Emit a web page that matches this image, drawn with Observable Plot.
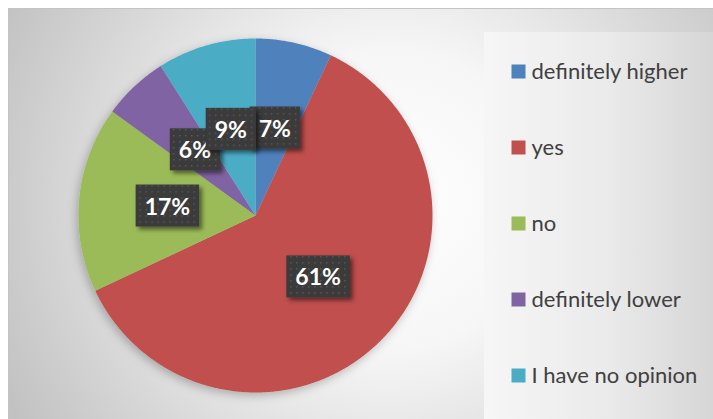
<!DOCTYPE html>
<html><head><meta charset="utf-8">
<script src="https://cdn.jsdelivr.net/npm/d3@7"></script>
<script src="https://cdn.jsdelivr.net/npm/@observablehq/plot@0.6"></script>
<style>
body{margin:0;background:#fff;}
#wrap{position:relative;width:713px;height:419px;overflow:hidden;}
#chart{position:absolute;left:0;top:0;}
#legend{position:absolute;left:484px;top:32px;width:229px;height:387px;background:linear-gradient(90deg,#f6f6f6 0%,#eaeaea 55%,#d6d6d6 100%);}
</style></head><body>
<div id="wrap"><div id="chart"></div><div id="legend"></div></div>
<script>
const categories = ["definitely higher", "yes", "no", "definitely lower", "I have no opinion"];
const values = [7, 61, 17, 6, 9];
const colors = ["#4F81BD", "#C0504D", "#9BBB59", "#8064A2", "#4BACC6"];

const pie = d3.pie().sort(null).value(d => d)(values);
const toXY = (a, r) => [r * Math.sin(a), r * Math.cos(a)];
const slices = pie.map((p, i) => {
  const n = Math.max(2, Math.ceil((p.endAngle - p.startAngle) / (Math.PI / 360)));
  const ring = [[0, 0]];
  for (let k = 0; k <= n; k++) ring.push(toXY(p.startAngle + (p.endAngle - p.startAngle) * k / n, 1));
  ring.push([0, 0]);
  return {type: "Feature", properties: {category: categories[i]}, geometry: {type: "Polygon", coordinates: [ring]}};
});
const labels = pie.map((p, i) => {
  const [x, y] = toXY((p.startAngle + p.endAngle) / 2, 0.5);
  return {x, y, text: `${values[i]}%`};
});

const chart = Plot.plot({
  width: 713, height: 419,
  marginLeft: 78, marginRight: 281, marginTop: 38, marginBottom: 27,
  projection: {type: "reflect-y", domain: {type: "MultiPoint", coordinates: [[-1, -1], [1, 1]]}},
  color: {domain: categories, range: colors},
  style: {background: "transparent", fontFamily: "Lato, sans-serif", overflow: "visible"},
  marks: [
    Plot.geo(slices, {fill: d => d.properties.category, stroke: "none"}),
    Plot.text(labels, {x: "x", y: "y", text: "text", fill: "white", fontSize: 23, fontWeight: "bold"})
  ]
});
document.getElementById("chart").appendChild(chart);

const NS = "http://www.w3.org/2000/svg";
const svg = d3.select(chart);
const defs = svg.insert("defs", ":first-child");
const rg = defs.append("radialGradient").attr("id", "bg").attr("gradientUnits", "userSpaceOnUse")
  .attr("cx", 390).attr("cy", 200).attr("r", 430);
rg.append("stop").attr("offset", 0).attr("stop-color", "#ffffff");
rg.append("stop").attr("offset", 0.35).attr("stop-color", "#f6f6f6");
rg.append("stop").attr("offset", 1).attr("stop-color", "#c2c2c2");
const pat = defs.append("pattern").attr("id", "dots").attr("patternUnits", "userSpaceOnUse").attr("width", 6).attr("height", 6);
pat.append("rect").attr("width", 6).attr("height", 6).attr("fill", "#3b3b3b");
pat.append("rect").attr("x", 2).attr("y", 2).attr("width", 1.5).attr("height", 1.5).attr("fill", "#575757");
const sh = defs.append("filter").attr("id", "shadow").attr("x", "-30%").attr("y", "-30%").attr("width", "160%").attr("height", "160%");
sh.append("feDropShadow").attr("dx", 3).attr("dy", 3).attr("stdDeviation", 2).attr("flood-color", "#000").attr("flood-opacity", 0.5);
const psh = defs.append("filter").attr("id", "pieshadow").attr("x", "-20%").attr("y", "-20%").attr("width", "140%").attr("height", "140%");
psh.append("feDropShadow").attr("dx", -2).attr("dy", 3).attr("stdDeviation", 5).attr("flood-color", "#000").attr("flood-opacity", 0.25);

const bg = document.createElementNS(NS, "rect");
bg.setAttribute("x", 8.5); bg.setAttribute("y", 8.5); bg.setAttribute("width", 706); bg.setAttribute("height", 412);
bg.setAttribute("fill", "url(#bg)"); bg.setAttribute("stroke", "#c4c4c4");
chart.insertBefore(bg, defs.node().nextSibling);

svg.select('g[aria-label="geo"]').attr("filter", "url(#pieshadow)");

svg.selectAll('g[aria-label="text"] text').each(function() {
  const b = this.getBBox();
  const cy = b.y + b.height / 2;
  const r = document.createElementNS(NS, "rect");
  r.setAttribute("x", b.x - 9); r.setAttribute("y", cy - 21);
  r.setAttribute("width", b.width + 18); r.setAttribute("height", 42);
  r.setAttribute("fill", "url(#dots)"); r.setAttribute("filter", "url(#shadow)");
  const t = this.getAttribute("transform");
  if (t) r.setAttribute("transform", t);
  this.parentNode.insertBefore(r, this);
});

const legend = Plot.plot({
  width: 229, height: 387,
  marginTop: 37, marginBottom: 43, marginLeft: 0, marginRight: 0,
  y: {type: "point", domain: categories, padding: 0, axis: null},
  color: {domain: categories, range: colors},
  style: {background: "transparent", fontFamily: "Lato, sans-serif", overflow: "visible"},
  marks: [
    Plot.dot(categories, {y: d => d, fill: d => d, symbol: "square", r: 7.9, frameAnchor: "left", dx: 34, stroke: "none"}),
    Plot.text(categories, {y: d => d, text: d => d, frameAnchor: "left", dx: 47, textAnchor: "start", fill: "#404040", fontSize: 22})
  ]
});
document.getElementById("legend").appendChild(legend);
</script>
</body></html>
